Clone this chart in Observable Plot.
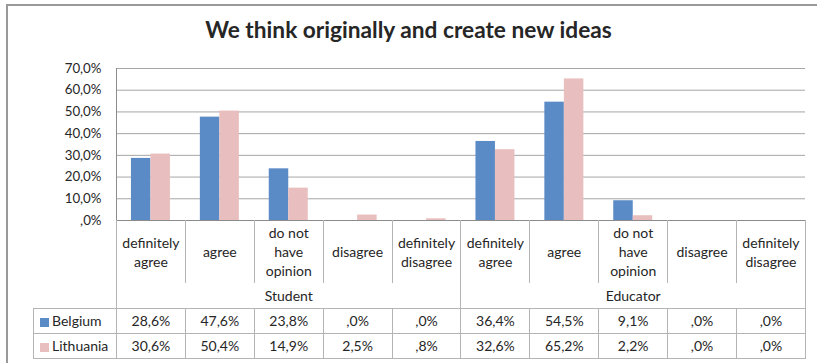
<!DOCTYPE html>
<html><head><meta charset="utf-8">
<script src="https://cdn.jsdelivr.net/npm/d3@7"></script>
<script src="https://cdn.jsdelivr.net/npm/@observablehq/plot@0.6"></script>
<style>
html,body{margin:0;padding:0;background:#fff;}
#wrap{position:relative;width:817px;height:363px;overflow:hidden;font-family:Lato,sans-serif;color:#262626;}
#frame{position:absolute;left:6px;top:4px;width:900px;height:400px;border-left:2px solid #999;border-top:2px solid #999;box-sizing:border-box;}
#title{position:absolute;left:0;top:19px;width:817px;text-align:center;font-family:Lato,sans-serif;font-weight:700;font-size:22.7px;line-height:22px;color:#262626;}
#chart{position:absolute;left:0;top:50px;}
#chart svg{display:block;}
table{position:absolute;border-collapse:collapse;table-layout:fixed;font-family:Lato,sans-serif;font-size:14px;color:#262626;}
td{padding:0;text-align:center;vertical-align:middle;}
td.cat{border-left:1px solid #b4b4b4;border-right:1px solid #b4b4b4;white-space:pre-line;line-height:19px;}
td.grp{border-left:1px solid #b4b4b4;border-right:1px solid #b4b4b4;}
td.cell{border:1px solid #b4b4b4;}
td.leg{border:1px solid #b4b4b4;text-align:left;padding-left:6px;white-space:nowrap;}
.key{display:inline-block;width:9px;height:9px;margin-right:3px;vertical-align:-1px;}
</style>
</head><body>
<div id="wrap"><div id="frame"></div><div id="title"></div><div id="chart"></div></div>
<script>
const title = "We think originally and create new ideas";
const groups = ["Student", "Educator"];
const categories = ["definitely agree", "agree", "do not have opinion", "disagree", "definitely disagree"];
const categoryLines = ["definitely\nagree", "agree", "do not\nhave\nopinion", "disagree", "definitely\ndisagree"];
const seriesNames = ["Belgium", "Lithuania"];
const belgium = [28.6, 47.6, 23.8, 0.0, 0.0, 36.4, 54.5, 9.1, 0.0, 0.0];
const lithuania = [30.6, 50.4, 14.9, 2.5, 0.8, 32.6, 65.2, 2.2, 0.0, 0.0];
const yTicks = [0, 10, 20, 30, 40, 50, 60, 70];
const seriesColors = ["#5b8bc6", "#e8bfbe"];

document.getElementById("title").textContent = title;

const keys = groups.flatMap(g => categories.map(c => g + "|" + c));
const seriesValues = [belgium, lithuania];
const data = [];
seriesNames.forEach((s, si) => keys.forEach((k, i) => data.push({key: k, series: s, value: seriesValues[si][i]})));

const fmt = v => { const s = (+v).toFixed(1).replace(".", ","); return (s.startsWith("0,") ? s.slice(1) : s) + "%"; };

const W = 817, ML = 116, MR = 12;
const step = (W - ML - MR) / keys.length;
const barW = step * 0.283;
const outer = (step - 2 * barW) / 2;

const chart = Plot.plot({
  width: W, height: 171, marginTop: 18, marginBottom: 1, marginLeft: ML, marginRight: MR,
  style: {fontFamily: "Lato, sans-serif", fontSize: "13.3px", color: "#262626", background: "transparent", overflow: "visible"},
  x: {domain: keys, padding: 0, round: false, axis: null},
  y: {domain: [0, 70], axis: null},
  color: {domain: seriesNames, range: seriesColors},
  marks: [
    Plot.gridY(yTicks.slice(1), {stroke: "#a6a6a6", strokeOpacity: 1}),
    Plot.barY(data.filter(d => d.series === seriesNames[0]), {x: "key", y: "value", fill: "series", insetLeft: outer, insetRight: outer + barW}),
    Plot.barY(data.filter(d => d.series === seriesNames[1]), {x: "key", y: "value", fill: "series", insetLeft: outer + barW, insetRight: outer}),
    Plot.ruleY([0], {stroke: "#8c8c8c"}),
    Plot.frame({anchor: "left", stroke: "#8c8c8c"}),
    Plot.axisY(yTicks, {tickSize: 0, tickPadding: 15, tickFormat: fmt, label: null})
  ]
});
document.getElementById("chart").appendChild(chart);

// data table below the axis, aligned with the x scale
const xs = chart.scale("x");
const bandLeft = xs.apply(keys[0]);
const bw = xs.step;
const tableLeft = 33;
const firstW = bandLeft - tableLeft;
const table = d3.select("#wrap").append("table")
  .style("left", tableLeft + "px").style("top", "220px")
  .style("width", (firstW + bw * keys.length) + "px");
const cg = table.append("colgroup");
cg.append("col").style("width", firstW + "px");
keys.forEach(() => cg.append("col").style("width", bw + "px"));

const r1 = table.append("tr").style("height", "63px");
r1.append("td");
groups.forEach(() => categoryLines.forEach(c => r1.append("td").attr("class", "cat").text(c)));

const r2 = table.append("tr").style("height", "25px");
r2.append("td");
groups.forEach(g => r2.append("td").attr("class", "grp").attr("colspan", categories.length).text(g));

seriesNames.forEach((s, si) => {
  const r = table.append("tr").style("height", "25px");
  const lg = r.append("td").attr("class", "leg");
  lg.append("span").attr("class", "key").style("background", seriesColors[si]);
  lg.append("span").text(s);
  seriesValues[si].forEach(v => r.append("td").attr("class", "cell").text(fmt(v)));
});
</script>
</body></html>
